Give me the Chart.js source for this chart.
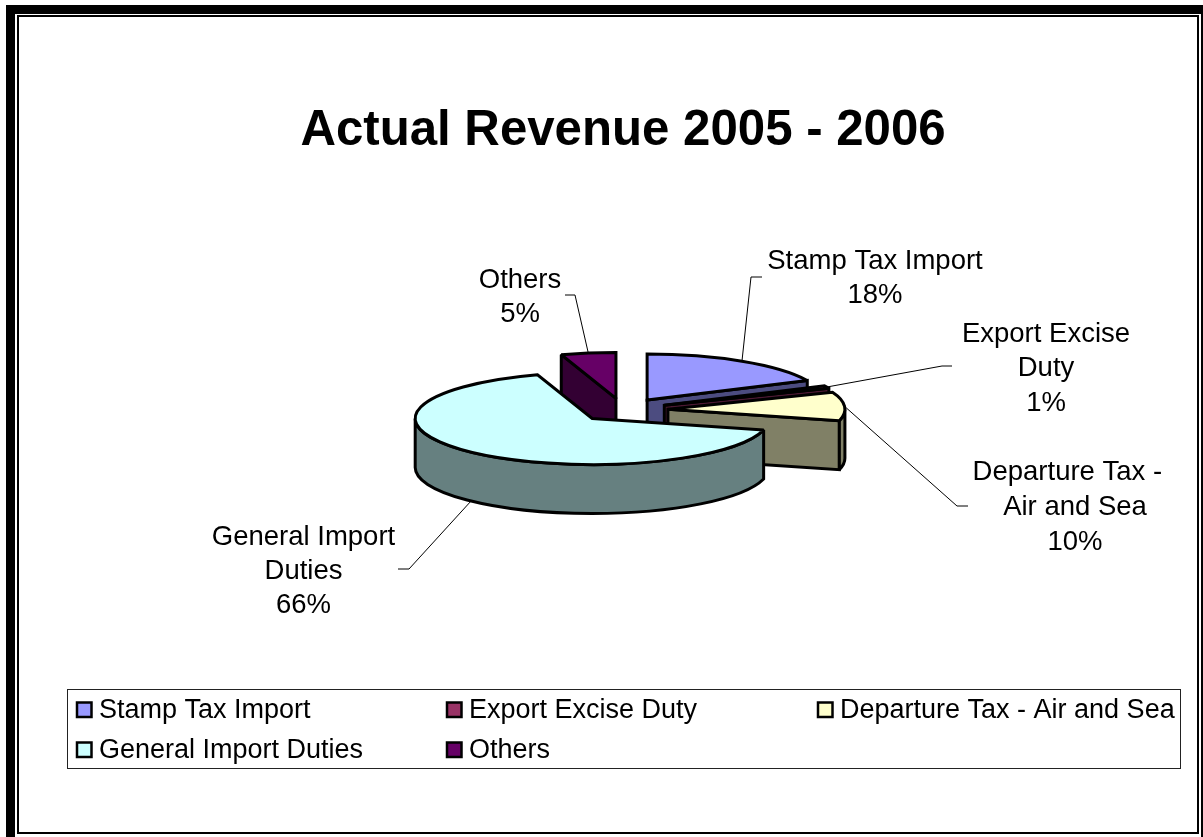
<!DOCTYPE html>
<html>
<head>
<meta charset="utf-8">
<title>Actual Revenue 2005 - 2006</title>
<script src="https://cdn.jsdelivr.net/npm/chart.js@4/dist/chart.umd.min.js"></script>
<style>
  html, body { margin: 0; padding: 0; background: #fff; }
  #wrap { position: relative; width: 1203px; height: 837px; overflow: hidden; }
  canvas { display: block; }
</style>
</head>
<body>
<div id="wrap"><canvas id="revenueChart" width="1203" height="837"></canvas></div>
<script>
const categories = ["Stamp Tax Import", "Export Excise Duty", "Departure Tax - Air and Sea", "General Import Duties", "Others"];
const shares = [18, 1, 10, 66, 5];
const topColors = ["#9999FF", "#993366", "#FFFFCC", "#CCFFFF", "#660066"];
const wallColors = ["#4C4C80", "#4C1933", "#808066", "#668080", "#330033"];

// wrapped callout text, the percentage goes on the last line
const calloutLines = [
  ["Stamp Tax Import"],
  ["Export Excise", "Duty"],
  ["Departure Tax -  ", "Air and Sea"],
  ["General Import", "Duties"],
  ["Others"]
];
const FONT = '"Liberation Sans", Arial, sans-serif';
const LABEL_SIZE = 27.5;
const LEGEND_SIZE = 27;

// pie look
const RADIUS = 177;
const TILT = 0.26;
const DEPTH = 49;
const EXPLODE = 45;
const LINE = 3;

// callout placement: text centre x, first line middle y, elbow points of the leader
const callouts = [
  { x: 875, y: 261, gap: 34, elbow: [[751, 277], [762, 277]] },
  { x: 1046, y: 334, gap: 34.5, elbow: [[942, 366], [952, 366]] },
  { x: 1075, y: 472, gap: 35, elbow: [[957, 506], [968, 506]] },
  { x: 303.5, y: 537, gap: 34, elbow: [[409, 569], [398, 569]] },
  { x: 520, y: 280, gap: 34, elbow: [[575, 295], [565, 295]] }
];

// legend box and grid
const legendBox = { x: 67.5, y: 689.5, w: 1113, h: 79 };
const legendCols = [77, 447, 818];
const legendRows = [709.5, 749.5];
const legendTextRows = [711, 751];

function arcCentre(arc) {
  const mid = (arc.startAngle + arc.endAngle) / 2;
  return {
    x: arc.x + Math.cos(mid) * EXPLODE,
    y: arc.y + Math.sin(mid) * EXPLODE * TILT,
    mid
  };
}

function rimPoint(c, angle) {
  return { x: c.x + Math.cos(angle) * RADIUS, y: c.y + Math.sin(angle) * RADIUS * TILT };
}

function outline(ctx) {
  ctx.lineWidth = LINE;
  ctx.strokeStyle = "#000";
  ctx.lineJoin = "miter";
  ctx.miterLimit = 2;
  ctx.stroke();
}

function drawFace(ctx, c, angle, fill) {
  const p = rimPoint(c, angle);
  ctx.beginPath();
  ctx.moveTo(c.x, c.y);
  ctx.lineTo(p.x, p.y);
  ctx.lineTo(p.x, p.y + DEPTH);
  ctx.lineTo(c.x, c.y + DEPTH);
  ctx.closePath();
  ctx.fillStyle = fill;
  ctx.fill();
  outline(ctx);
}

function drawWall(ctx, c, from, to, fill) {
  ctx.beginPath();
  ctx.ellipse(c.x, c.y, RADIUS, RADIUS * TILT, 0, from, to);
  ctx.ellipse(c.x, c.y + DEPTH, RADIUS, RADIUS * TILT, 0, to, from, true);
  ctx.closePath();
  ctx.fillStyle = fill;
  ctx.fill();
  outline(ctx);
}

function drawSlice(ctx, arc, i) {
  const c = arcCentre(arc);
  const start = arc.startAngle, end = arc.endAngle;

  // side faces: only those turned to the viewer
  if (Math.cos(start) < -1e-6) drawFace(ctx, c, start, wallColors[i]);
  if (Math.cos(end) > 1e-6) drawFace(ctx, c, end, wallColors[i]);

  // outer wall, the part below the horizontal axis of the ellipse
  const from = Math.max(start, 0);
  const to = Math.min(end, Math.PI);
  if (to > from) drawWall(ctx, c, from, to, wallColors[i]);

  // top face, the arc element paints its fill through a squashed transform
  ctx.save();
  ctx.translate(c.x, c.y);
  ctx.scale(1, TILT);
  ctx.translate(-arc.x, -arc.y);
  arc.draw(ctx);
  ctx.restore();

  ctx.beginPath();
  ctx.moveTo(c.x, c.y);
  ctx.ellipse(c.x, c.y, RADIUS, RADIUS * TILT, 0, start, end);
  ctx.closePath();
  outline(ctx);
}

const tiltedPie = {
  id: "tiltedPie",
  beforeDatasetDraw(chart, args) {
    const ctx = chart.ctx;
    const arcs = args.meta.data;
    // back to front
    [4, 0, 1, 2, 3].forEach(i => drawSlice(ctx, arcs[i], i));
    return false;
  }
};

const callouts3d = {
  id: "callouts3d",
  afterDraw(chart) {
    const ctx = chart.ctx;
    const arcs = chart.getDatasetMeta(0).data;
    ctx.save();
    ctx.font = LABEL_SIZE + "px " + FONT;
    ctx.textAlign = "center";
    ctx.textBaseline = "middle";
    ctx.fillStyle = "#000";
    arcs.forEach((arc, i) => {
      const co = callouts[i];
      const c = arcCentre(arc);
      const p = rimPoint(c, c.mid);
      const y0 = Math.sin(c.mid) > 0.5 ? p.y + DEPTH : p.y;

      ctx.beginPath();
      ctx.moveTo(p.x, y0);
      co.elbow.forEach(e => ctx.lineTo(e[0], e[1]));
      ctx.lineWidth = 1;
      ctx.strokeStyle = "#000";
      ctx.stroke();

      const lines = calloutLines[i].concat(shares[i] + "%");
      lines.forEach((t, n) => ctx.fillText(t, co.x, co.y + n * co.gap));
    });
    ctx.restore();
  }
};

const boxLegend = {
  id: "boxLegend",
  afterDraw(chart) {
    const ctx = chart.ctx;
    ctx.save();
    ctx.lineWidth = 1;
    ctx.strokeStyle = "#222";
    ctx.strokeRect(legendBox.x, legendBox.y, legendBox.w, legendBox.h);
    ctx.font = LEGEND_SIZE + "px " + FONT;
    ctx.textBaseline = "middle";
    categories.forEach((name, i) => {
      const x = legendCols[i % 3];
      const row = Math.floor(i / 3);
      const y = legendRows[row];
      ctx.fillStyle = topColors[i];
      ctx.fillRect(x, y - 7, 14.5, 14.5);
      ctx.lineWidth = 2.5;
      ctx.strokeStyle = "#000";
      ctx.strokeRect(x, y - 7, 14.5, 14.5);
      ctx.fillStyle = "#000";
      ctx.fillText(name, x + 22, legendTextRows[row]);
    });
    ctx.restore();
  }
};

// heavy edge on three sides plus a thin rule inside it
const sheetFrame = {
  id: "sheetFrame",
  beforeDraw(chart) {
    const ctx = chart.ctx;
    ctx.save();
    ctx.fillStyle = "#fff";
    ctx.fillRect(0, 0, chart.width, chart.height);
    ctx.fillStyle = "#000";
    ctx.fillRect(6, 5, 9, 832);
    ctx.fillRect(6, 5, 1197, 9);
    ctx.fillRect(1201, 5, 2, 832);
    ctx.strokeStyle = "#000";
    ctx.lineWidth = 2;
    ctx.strokeRect(18, 16, 1180, 817);
    ctx.restore();
  }
};

new Chart(document.getElementById("revenueChart"), {
  type: "pie",
  data: {
    labels: categories,
    datasets: [{
      data: shares,
      backgroundColor: topColors,
      borderWidth: 0,
      radius: RADIUS
    }]
  },
  plugins: [sheetFrame, tiltedPie, callouts3d, boxLegend],
  options: {
    responsive: false,
    animation: false,
    layout: { padding: { left: 43, right: 0, top: 0, bottom: 177.6 } },
    plugins: {
      legend: { display: false },
      tooltip: { enabled: false },
      title: {
        display: true,
        text: "Actual Revenue 2005 - 2006",
        color: "#000",
        font: { family: FONT, size: 49.2, weight: "bold", lineHeight: 1.2 },
        padding: { top: 101.5, bottom: 0 }
      }
    }
  }
});
</script>
</body>
</html>
